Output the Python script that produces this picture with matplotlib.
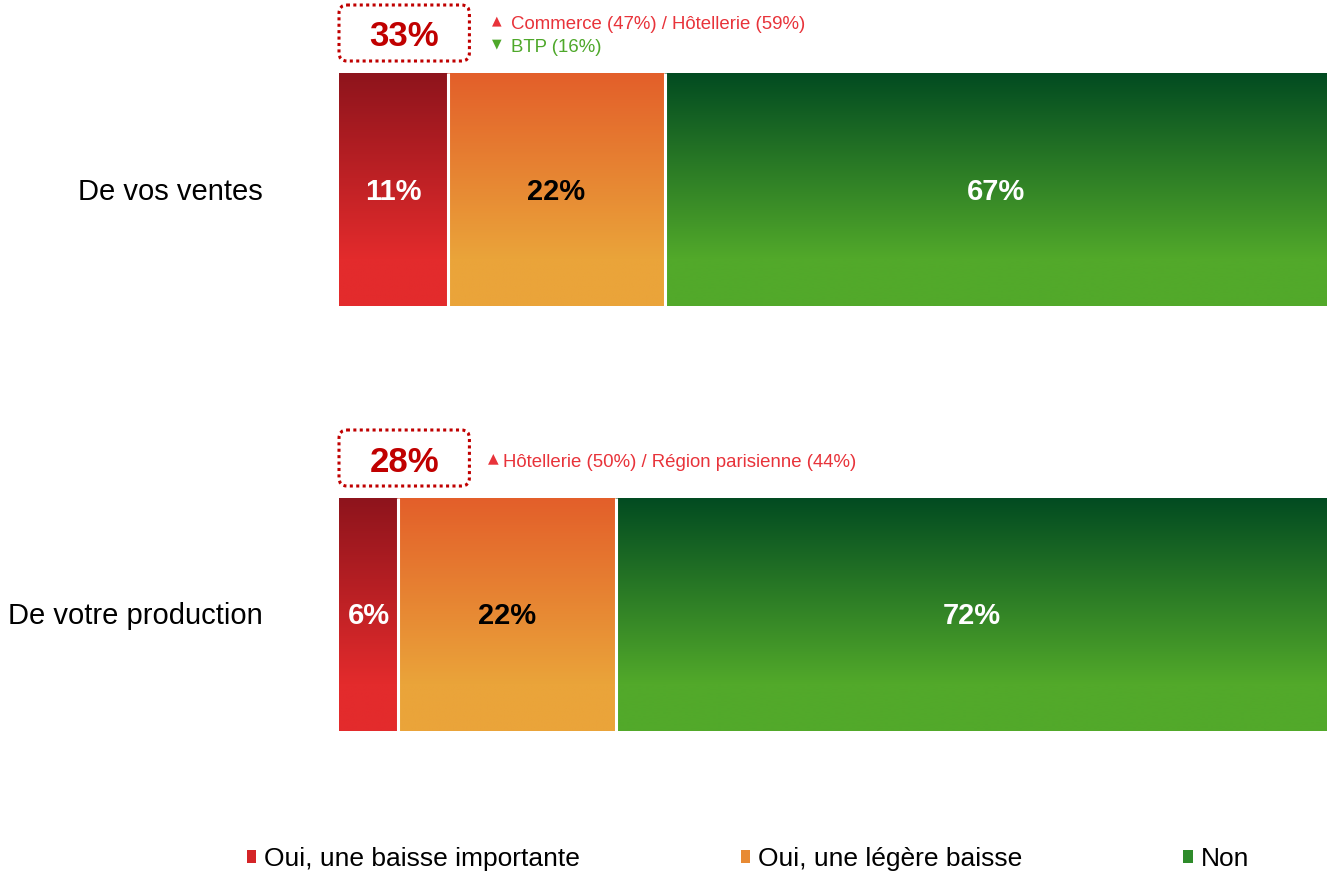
import matplotlib
matplotlib.use("Agg")
from matplotlib import pyplot as plt
from matplotlib.patches import Patch, FancyBboxPatch
from matplotlib.colors import to_rgb
import numpy as np

plt.rcParams['font.family'] = ['Liberation Sans', 'DejaVu Sans']

# datos
categorias = ['De vos ventes', 'De votre production']
series = ['Oui, une baisse importante', 'Oui, une légère baisse', 'Non']
valores = {
    'Oui, une baisse importante': [11, 6],
    'Oui, une légère baisse': [22, 22],
    'Non': [67, 72],
}
totales_oui = ['33%', '28%']
notas_sube = ['Commerce (47%) / Hôtellerie (59%)', 'Hôtellerie (50%) / Région parisienne (44%)']
notas_baja = ['BTP (16%)', None]

# degradados (arriba, abajo)
grad = {
    'Oui, une baisse importante': ('#8e141c', '#e32b2c'),
    'Oui, une légère baisse': ('#e35f2a', '#eaa43a'),
    'Non': ('#024b21', '#52a92a'),
}
col_texto = {'Oui, une baisse importante': 'white', 'Oui, une légère baisse': 'black', 'Non': 'white'}
leg_col = {'Oui, une baisse importante': '#d42427', 'Oui, une légère baisse': '#e88a33', 'Non': '#2e8b2a'}

PX = 1 / 425  # un pixel en unidades de y


def degradado(c1, c2, n=256, fin=0.8):
    t = np.clip(np.linspace(0, 1, n) / fin, 0, 1)[:, None]
    a = np.array(to_rgb(c1))
    b = np.array(to_rgb(c2))
    return (a * (1 - t) + b * t)[:, None, :]


fig = plt.figure(figsize=(13.27, 8.74), dpi=100)
ax = fig.add_axes([0, 0, 1, 1])
ax.axis('off')

alto = 233 * PX
y = np.arange(len(categorias))
izq = np.zeros(len(categorias))
for s in series:
    v = np.array(valores[s])
    bars = ax.barh(y, v, left=izq, height=alto, color='none', linewidth=0, zorder=3)
    img = degradado(*grad[s])
    for i, b in enumerate(bars):
        im = ax.imshow(img, extent=[izq[i], izq[i] + v[i], y[i] + alto / 2, y[i] - alto / 2],
                       aspect='auto', interpolation='bilinear', zorder=2)
        im.set_clip_path(b)
        ax.text(izq[i] + v[i] / 2, y[i] + 2 * PX, f'{v[i]}%', ha='center', va='center',
                fontsize=21, fontweight='bold', color=col_texto[s], zorder=4)
    izq = izq + v
    # separadores blancos
    if s != series[-1]:
        for i in range(len(categorias)):
            ax.vlines(izq[i], y[i] - alto / 2, y[i] + alto / 2, color='white', linewidth=2.2, zorder=3)

ax.set_xlim(-339 / 9.88, 100)
ax.set_ylim((874 - 189.5) * PX, -189.5 * PX)

for i, c in enumerate(categorias):
    ax.text(-7.7, y[i] + 2 * PX, c, ha='right', va='center', fontsize=21, color='black')

# cajas de total
for i, t in enumerate(totales_oui):
    yc = y[i] - 156.5 * PX
    box = FancyBboxPatch((0.0, yc - 28 * PX), 13.2, 56 * PX,
                         boxstyle='round,pad=0,rounding_size=0.8', mutation_aspect=1 / 40,
                         fill=False, edgecolor='#c00000', linestyle=(0, (1, 1.1)), linewidth=2.2)
    ax.add_patch(box)
    ax.text(6.6, yc + 4 * PX, t, ha='center', va='center', fontsize=25, fontweight='bold', color='#c00000')

# notas
ax.text(16.0, y[0] - 169 * PX, '▲', ha='center', va='center', fontsize=9, color='#e8333a', family=['DejaVu Sans'])
ax.text(17.4, y[0] - 165 * PX, notas_sube[0], ha='left', va='center', fontsize=13.4, color='#e8333a')
ax.text(16.0, y[0] - 146 * PX, '▼', ha='center', va='center', fontsize=9, color='#4ea82a', family=['DejaVu Sans'])
ax.text(17.4, y[0] - 142 * PX, notas_baja[0], ha='left', va='center', fontsize=13.4, color='#4ea82a')
ax.text(15.6, y[1] - 156 * PX, '▲', ha='center', va='center', fontsize=10, color='#e8333a', family=['DejaVu Sans'])
ax.text(16.6, y[1] - 152 * PX, notas_sube[1], ha='left', va='center', fontsize=13.4, color='#e8333a')

handles = [Patch(facecolor=leg_col[s], edgecolor='none', label=s) for s in series]
fig.legend(handles=handles, loc='center', bbox_to_anchor=(748 / 1327, 1 - 859 / 874), ncol=3,
           frameon=False, fontsize=19, handlelength=0.35, handleheight=0.35, handletextpad=0.3,
           columnspacing=6.1)

fig.savefig('out.png', dpi=100)
